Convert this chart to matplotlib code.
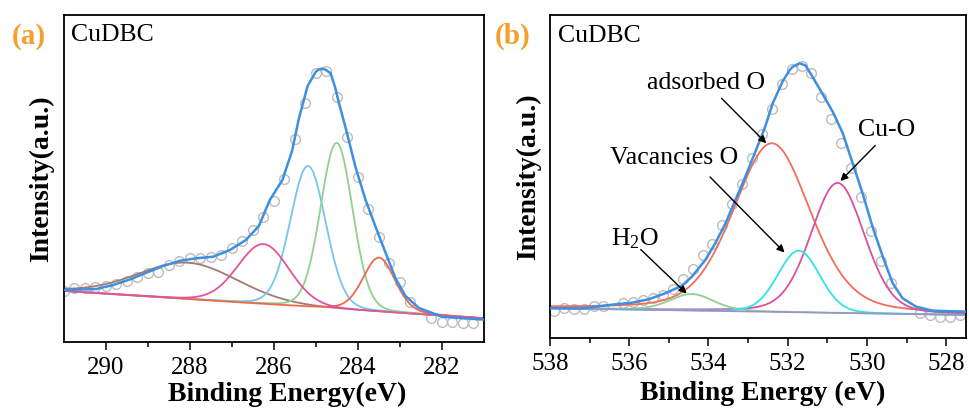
import numpy as np
import matplotlib
matplotlib.use("Agg")
import matplotlib.pyplot as plt

matplotlib.rcParams.update({
    "font.family": "Liberation Serif",
    "mathtext.fontset": "custom",
    "mathtext.rm": "Liberation Serif",
    "mathtext.it": "Liberation Serif:italic",
    "mathtext.bf": "Liberation Serif:bold",
})

# ---------------- C 1s (panel a) ----------------
c1s_be = [291.0, 290.75, 290.5, 290.25, 290.0, 289.75, 289.5, 289.25, 289.0, 288.75,
          288.5, 288.25, 288.0, 287.75, 287.5, 287.25, 287.0, 286.75, 286.5, 286.25,
          286.0, 285.75, 285.5, 285.25, 285.0, 284.75, 284.5, 284.25, 284.0, 283.75,
          283.5, 283.25, 283.0, 282.75, 282.25, 282.0, 281.75, 281.5, 281.25]
c1s_counts = [51, 53.7, 53.7, 54.7, 56, 58.3, 61, 64.7, 69.3, 70.3,
              77, 81.3, 84, 84.3, 85.3, 86.7, 94.3, 101.3, 112, 125.3,
              141, 163, 202.7, 238.7, 268.7, 271.3, 245.3, 204.7, 164.7, 132.7,
              104.7, 79.3, 60.3, 40.3, 23.7, 20.3, 19.7, 18.7, 18.7]

# fitted envelope
c1s_env_be = [291.0, 290.63, 290.23, 289.83, 289.42, 289.04, 288.64, 288.23, 287.85, 287.45,
              287.05, 286.67, 286.36, 286.1, 285.8, 285.57, 285.41, 285.2, 285.09, 285.01,
              284.93, 284.85, 284.76, 284.65, 284.54, 284.46, 284.3, 284.06, 283.82, 283.58,
              283.35, 283.11, 282.87, 282.55, 282.0, 281.13, 281.0]
c1s_env = [52, 52.5, 53, 57, 62.7, 69.3, 76, 81.3, 83.7, 85.3,
           92, 102, 116, 142, 162, 191, 223, 256, 264, 270,
           272.7, 273.3, 272, 268.5, 254, 240, 215, 175, 142, 115,
           90, 64, 46, 34, 25.3, 22.7, 22.5]

# linear background at the two ends of the window (291 eV, 281 eV)
c1s_bg_be = [291.0, 281.0]
c1s_bg = [51.0, 23.5]

# fitted components: centre (eV), height above background, FWHM (eV), Lorentz fraction
c1s_center = [288.05, 286.25, 285.19, 284.51, 283.50]
c1s_height = [36.4, 60.0, 141.0, 166.0, 54.0]
c1s_fwhm = [2.8, 1.45, 1.0, 0.9, 0.9]
c1s_eta = [0.1, 0.1, 0.1, 0.1, 0.2]
# drawn in this order so the pink component ends up on top
c1s_colors = ["#a57a72", "#74c6f0", "#8fd18e", "#f2664e", "#e2549e"]
c1s_seq = [0, 2, 3, 4, 1]

# ---------------- O 1s (panel b) ----------------
o1s_be = [537.9, 537.65, 537.4, 537.15, 536.9, 536.65, 536.15, 535.9, 535.65, 535.4,
          535.15, 534.9, 534.65, 534.4, 534.15, 533.9, 533.65, 533.4, 533.15, 532.9,
          532.65, 532.4, 532.15, 531.9, 531.65, 531.4, 531.15, 530.9, 530.65, 530.4,
          530.15, 529.9, 529.65, 529.4, 528.65, 528.4, 528.15, 527.9, 527.65]
o1s_counts = [27.3, 30.3, 28.7, 28.7, 32, 32, 35.3, 36, 38, 40.3,
              43, 48.7, 58.7, 68.7, 83, 93.7, 112.7, 134, 154, 180,
              204, 228.7, 253.7, 268.7, 272, 264.7, 241.3, 218.7, 194.7, 169.7,
              141.3, 107, 77.3, 55.3, 24.7, 23, 21.3, 21.3, 23]

o1s_env_be = [538.0, 537.19, 536.35, 535.93, 535.51, 535.09, 534.67, 534.42, 534.08, 533.83,
              533.57, 533.32, 533.07, 532.82, 532.58, 532.38, 532.13, 531.95, 531.87, 531.7,
              531.55, 531.37, 531.12, 530.86, 530.61, 530.36, 530.11, 529.86, 529.6, 529.35,
              529.1, 528.76, 528.34, 527.5]
o1s_env = [29.7, 29.7, 33.7, 35.3, 38.7, 44.7, 52.3, 61.3, 78, 94.7,
           114.7, 138, 161.3, 186, 210, 234.5, 256.5, 268, 271.3, 274.7,
           272.5, 261, 244, 226, 204.7, 174.7, 144.7, 111.3, 81.3, 54.7,
           39.7, 31.3, 27.3, 26.3]

o1s_bg_be = [538.0, 527.5]
o1s_bg = [29.7, 23.0]

# components: adsorbed O, Cu-O, H2O, vacancies O
o1s_center = [532.40, 530.74, 534.42, 531.72]
o1s_height = [168.6, 130.0, 16.6, 61.6]
o1s_fwhm = [2.3, 1.6, 1.3, 1.25]
o1s_eta = [0.3, 0.2, 0.3, 0.1]
o1s_colors = ["#f26d5b", "#d9509f", "#8fd18e", "#2fe3e6"]
o1s_seq = [0, 1, 2, 3]

ENV_COLOR = "#3d8fe0"
POINT_COLOR = "#bcbcbc"


def pseudo_voigt(x, center, height, fwhm, eta):
    u = (x - center) / fwhm
    g = np.exp(-4 * np.log(2) * u ** 2)
    lor = 1.0 / (1.0 + 4 * u ** 2)
    return height * ((1 - eta) * g + eta * lor)


def style_axis(ax, xlim, ylim, major):
    ax.set_xlim(*xlim)
    ax.set_ylim(*ylim)
    ax.set_xticks(major)
    ax.set_xticks(np.array(major[:-1]) - 1, minor=True)
    ax.set_xticklabels([str(v) for v in major], fontsize=18)
    ax.set_yticks([])
    ax.tick_params(axis="x", which="major", direction="out", length=6, width=1.1, pad=4.5)
    ax.tick_params(axis="x", which="minor", direction="out", length=3.5, width=1.1)
    for s in ax.spines.values():
        s.set_linewidth(1.3)


def draw_panel(ax, be, counts, env_be, env, bg_be, bg, centers, heights, fwhms, etas,
               colors, seq, xlim):
    x = np.linspace(xlim[0], xlim[1], 800)
    base = np.interp(x, bg_be[::-1], bg[::-1])

    ax.plot(be, counts, "o", ms=7, mfc="none", mec=POINT_COLOR, mew=1.0, zorder=1)
    ax.plot(env_be, env, color=ENV_COLOR, lw=1.8, zorder=3,
            solid_joinstyle="round")
    for col, i in zip(colors, seq):
        y = base + pseudo_voigt(x, centers[i], heights[i], fwhms[i], etas[i])
        ax.plot(x, y, color=col, lw=1.3, zorder=2)


fig = plt.figure(figsize=(9.7, 4.08), dpi=100)
W, H = 970, 408

# panel (a)
ax_a = fig.add_axes([64 / W, (H - 342) / H, 420 / W, 327 / H])
draw_panel(ax_a, c1s_be, c1s_counts, c1s_env_be, c1s_env, c1s_bg_be, c1s_bg,
           c1s_center, c1s_height, c1s_fwhm, c1s_eta, c1s_colors, c1s_seq, (291, 281))
style_axis(ax_a, (291, 281), (0, 327), [290, 288, 286, 284, 282])

# panel (b)
ax_b = fig.add_axes([550 / W, (H - 338) / H, 416 / W, 323 / H])
draw_panel(ax_b, o1s_be, o1s_counts, o1s_env_be, o1s_env, o1s_bg_be, o1s_bg,
           o1s_center, o1s_height, o1s_fwhm, o1s_eta, o1s_colors, o1s_seq, (538, 527.5))
ax_b.plot(o1s_bg_be, o1s_bg, color="#9b93c6", lw=1.2, zorder=2)
style_axis(ax_b, (538, 527.5), (0, 323), [538, 536, 534, 532, 530, 528])

# peak labels with arrows on the O 1s panel
labels_b = [
    ("adsorbed O", (534.07, 255), (533.67, 239.7), (532.54, 194.7)),
    ("Vacancies O", (534.86, 180), (533.96, 161), (532.08, 85.5)),
    ("Cu-O", (529.51, 208), (529.79, 192.5), (530.67, 157)),
    ("H$_{2}$O", (535.85, 99), (535.71, 88.5), (534.55, 44.5)),
]
for text, pos, start, tip in labels_b:
    ax_b.text(pos[0], pos[1], text, fontsize=18.5, ha="center", va="center", zorder=5)
    ax_b.annotate("", xy=tip, xytext=start, zorder=5,
                  arrowprops=dict(arrowstyle="-|>", color="black", lw=1.0,
                                  mutation_scale=11, shrinkA=0, shrinkB=0))

# panel letters, sample names and axis titles
orange = "#f5a02a"
fig.text(12 / W, 1 - 36 / H, "(a)", color=orange, fontsize=21, fontweight="bold",
         ha="left", va="center")
fig.text(495 / W, 1 - 36 / H, "(b)", color=orange, fontsize=21, fontweight="bold",
         ha="left", va="center")
fig.text(71 / W, 1 - 35 / H, "CuDBC", fontsize=18.5, ha="left", va="center")
fig.text(558 / W, 1 - 36.5 / H, "CuDBC", fontsize=18.5, ha="left", va="center")

fig.text(42 / W, 1 - 179 / H, "Intensity(a.u.)", fontsize=20, fontweight="bold",
         rotation=90, ha="center", va="center")
fig.text(529 / W, 1 - 177 / H, "Intensity(a.u.)", fontsize=20, fontweight="bold",
         rotation=90, ha="center", va="center")
fig.text(287.5 / W, 1 - 394 / H, "Binding Energy(eV)", fontsize=20, fontweight="bold",
         ha="center", va="center")
fig.text(762.5 / W, 1 - 393 / H, "Binding Energy (eV)", fontsize=20, fontweight="bold",
         ha="center", va="center")

fig.savefig("out.png", dpi=100)
